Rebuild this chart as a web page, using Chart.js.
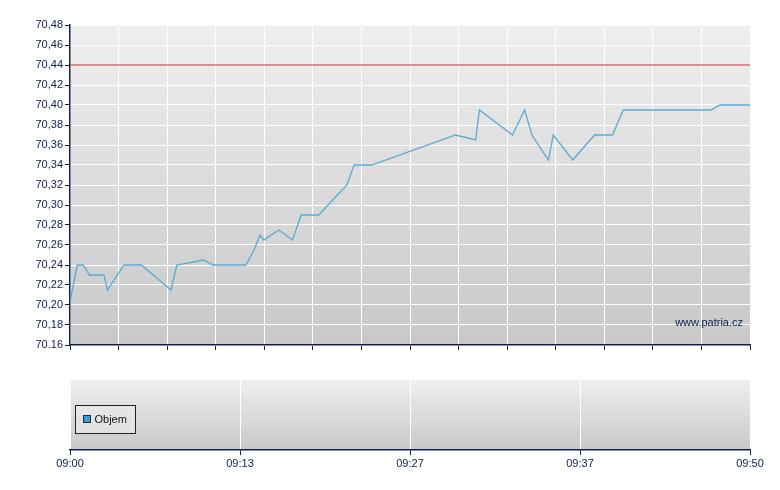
<!DOCTYPE html>
<html>
<head>
<meta charset="utf-8">
<script src="https://cdn.jsdelivr.net/npm/chart.js@4.4.1/dist/chart.umd.min.js"></script>
<style>
  html, body { margin: 0; padding: 0; background: #ffffff; }
  #wrap { position: relative; width: 780px; height: 490px; }
  #priceBox { position: absolute; left: 0; top: 0; width: 780px; height: 360px; }
  #volBox { position: absolute; left: 0; top: 360px; width: 780px; height: 130px; }
</style>
</head>
<body>
<div id="wrap">
  <div id="priceBox"><canvas id="price"></canvas></div>
  <div id="volBox"><canvas id="vol"></canvas></div>
</div>
<script>
// ---- data ----
// x position of each trade along the time axis (in grid intervals, 0..14)
const tradePos = [0, 0.15, 0.27, 0.40, 0.70, 0.77, 1.11, 1.47, 2.08, 2.20, 2.75, 2.95,
  3.62, 3.79, 3.91, 3.99, 4.30, 4.58, 4.76, 5.12, 5.70, 5.85, 6.21, 7.94, 8.35, 8.43,
  9.11, 9.36, 9.51, 9.85, 9.95, 10.35, 10.80, 11.17, 11.39, 13.20, 13.38, 14];
const prices = [70.203, 70.24, 70.24, 70.23, 70.23, 70.215, 70.24, 70.24, 70.215, 70.24,
  70.245, 70.24, 70.24, 70.255, 70.27, 70.265, 70.275, 70.265, 70.29, 70.29, 70.32,
  70.34, 70.34, 70.37, 70.365, 70.395, 70.37, 70.395, 70.37, 70.345, 70.37, 70.345,
  70.37, 70.37, 70.395, 70.395, 70.40, 70.40];
const refLevel = 70.44;
const yTickValues = [70.16, 70.18, 70.20, 70.22, 70.24, 70.26, 70.28, 70.30, 70.32,
  70.34, 70.36, 70.38, 70.40, 70.42, 70.44, 70.46, 70.48];
const yTickLabels = ['70.16', '70,18', '70,20', '70,22', '70,24', '70,26', '70,28',
  '70,30', '70,32', '70,34', '70,36', '70,38', '70,40', '70,42', '70,44', '70,46', '70,48'];
const priceGridCount = 14;
const timeLabels = ['09:00', '09:13', '09:27', '09:37', '09:50'];
const volumes = [];
const volumeLabel = 'Objem';
const watermark = 'www.patria.cz';

// ---- styles ----
const NAVY = '#0c1f4d';
const FONT = { family: "'Liberation Sans', Arial, sans-serif", size: 11 };

function gradientBg(topColor, bottomColor) {
  return {
    id: 'gradBg',
    beforeDraw(chart) {
      const a = chart.chartArea, ctx = chart.ctx;
      const g = ctx.createLinearGradient(0, a.top, 0, a.bottom);
      g.addColorStop(0, topColor);
      g.addColorStop(1, bottomColor);
      ctx.save();
      ctx.fillStyle = g;
      ctx.fillRect(a.left, a.top, a.right - a.left, a.bottom - a.top);
      ctx.restore();
    }
  };
}

const watermarkPlugin = {
  id: 'watermark',
  afterDatasetsDraw(chart) {
    const a = chart.chartArea, ctx = chart.ctx;
    ctx.save();
    ctx.font = "11px 'Liberation Sans', Arial, sans-serif";
    ctx.fillStyle = NAVY;
    ctx.textAlign = 'right';
    ctx.textBaseline = 'middle';
    ctx.fillText(watermark, a.right - 7, a.bottom - 22);
    ctx.restore();
  }
};

const pricePoints = tradePos.map((x, i) => ({ x: x, y: prices[i] }));
const refPoints = [{ x: 0, y: refLevel }, { x: priceGridCount, y: refLevel }];

new Chart(document.getElementById('price'), {
  type: 'line',
  data: {
    datasets: [
      {
        label: 'ref',
        data: refPoints,
        borderColor: '#c8282a',
        borderWidth: 1,
        pointRadius: 0,
        tension: 0
      },
      {
        label: 'Cena',
        data: pricePoints,
        borderColor: '#5aaad3',
        borderWidth: 1.3,
        pointRadius: 0,
        tension: 0
      }
    ]
  },
  options: {
    responsive: true,
    maintainAspectRatio: false,
    animation: false,
    events: [],
    layout: { padding: { left: 0, top: 25, right: 30, bottom: 0 } },
    plugins: { legend: { display: false }, tooltip: { enabled: false } },
    scales: {
      x: {
        type: 'linear',
        min: 0,
        max: priceGridCount,
        ticks: { display: false, stepSize: 1 },
        grid: { color: '#ffffff', lineWidth: 1, tickColor: NAVY, tickLength: 5, drawTicks: true },
        border: { color: NAVY, width: 1.5 },
        afterFit(s) { s.height = 15; }
      },
      y: {
        type: 'linear',
        min: 70.16,
        max: 70.48,
        afterBuildTicks(s) { s.ticks = yTickValues.map(v => ({ value: v })); },
        ticks: {
          color: NAVY,
          font: FONT,
          padding: 2,
          callback: (v, i) => yTickLabels[i]
        },
        grid: { color: '#ffffff', lineWidth: 1, tickColor: NAVY, tickLength: 5 },
        border: { color: NAVY, width: 1.5 },
        afterFit(s) { s.width = 70; }
      }
    }
  },
  plugins: [gradientBg('#efefef', '#c8c8c8'), watermarkPlugin]
});

const legendPlugin = {
  id: 'volLegend',
  afterDatasetsDraw(chart) {
    const a = chart.chartArea, ctx = chart.ctx;
    const x = a.left + 5.5, y = a.top + 25.5, w = 60, h = 28;
    ctx.save();
    ctx.fillStyle = 'rgba(235,235,235,0.6)';
    ctx.fillRect(x, y, w, h);
    ctx.strokeStyle = '#202020';
    ctx.lineWidth = 1;
    ctx.strokeRect(x, y, w, h);
    ctx.fillStyle = '#3d9bd1';
    ctx.fillRect(x + 8, y + 10, 7, 7);
    ctx.strokeStyle = '#1a2a40';
    ctx.strokeRect(x + 8, y + 10, 7, 7);
    ctx.fillStyle = '#111111';
    ctx.font = "11px 'Liberation Sans', Arial, sans-serif";
    ctx.textAlign = 'left';
    ctx.textBaseline = 'middle';
    ctx.fillText(volumeLabel, x + 19, y + 14);
    ctx.restore();
  }
};

new Chart(document.getElementById('vol'), {
  type: 'bar',
  data: {
    datasets: [{
      label: volumeLabel,
      data: volumes,
      backgroundColor: '#3d9bd1',
      borderColor: '#1a2a40',
      borderWidth: 1
    }]
  },
  options: {
    responsive: true,
    maintainAspectRatio: false,
    animation: false,
    events: [],
    layout: { padding: { left: 70, top: 20, right: 30, bottom: 0 } },
    plugins: { legend: { display: false }, tooltip: { enabled: false } },
    scales: {
      x: {
        type: 'linear',
        offset: false,
        min: 0,
        max: timeLabels.length - 1,
        afterBuildTicks(s) { s.ticks = timeLabels.map((t, i) => ({ value: i })); },
        ticks: {
          color: NAVY,
          font: FONT,
          padding: 2,
          maxRotation: 0,
          autoSkip: false,
          callback: (v, i) => timeLabels[i]
        },
        grid: { offset: false, color: '#ffffff', lineWidth: 1, tickColor: NAVY, tickLength: 5 },
        border: { color: NAVY, width: 1.5 },
        afterFit(s) { s.height = 40; }
      },
      y: {
        display: false,
        min: 0,
        max: 1
      }
    }
  },
  plugins: [gradientBg('#efefef', '#c8c8c8'), legendPlugin]
});
</script>
</body>
</html>
